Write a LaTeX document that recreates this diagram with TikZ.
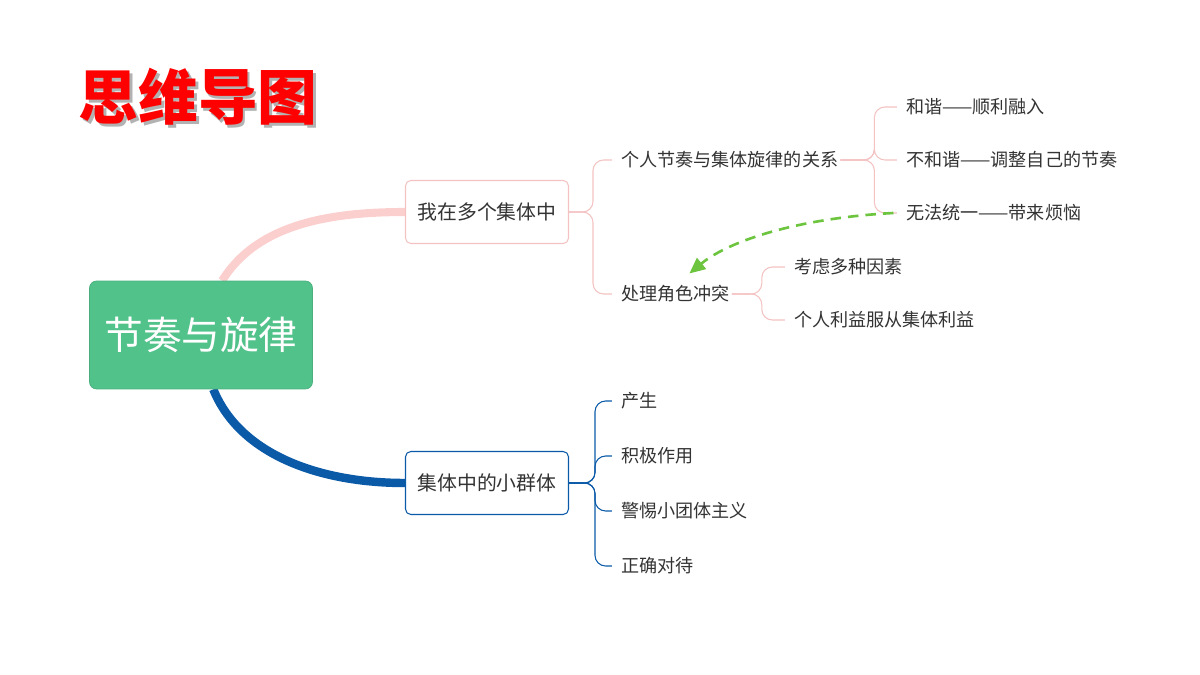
\documentclass[tikz,border=0pt]{standalone}
\usepackage{fontspec}
\setmainfont{Noto Sans CJK SC}
\usetikzlibrary{arrows.meta,positioning,backgrounds}
\definecolor{titlered}{HTML}{FF0000}
\definecolor{rootgreen}{HTML}{52C28B}
\definecolor{pinkline}{HTML}{FCCFCF}
\definecolor{pinkbox}{HTML}{F4C2C2}
\definecolor{bluebr}{HTML}{0B5AA8}
\definecolor{txtgray}{HTML}{333333}
\definecolor{arrowgreen}{HTML}{6DC43F}
\newcommand{\shadowtext}[1]{\makebox[0pt][l]{\hspace{1.7pt}\raisebox{-1.7pt}{\textcolor{gray!60}{#1}}}#1}
\tikzset{
	topic/.style={draw, rounded corners=3pt, fill=white, line width=0.6pt, minimum width=3.26cm, minimum height=1.26cm, text=txtgray, font=\fontsize{11.3}{13}\selectfont},
	leaf/.style={anchor=west, inner sep=1pt, text=txtgray, font=\fontsize{10.3}{12}\selectfont},
	brace/.style={rounded corners=6pt, line width=0.6pt},
}

\begin{document}
\begin{tikzpicture}[x=0.02cm, y=-0.02cm]
		\useasboundingbox (0,0) rectangle (1200,675);
		\node[text=titlered, font=\fontsize{34}{40}\selectfont\bfseries] (title) at (198,98) {\shadowtext{思维导图}};
		\node[draw=rootgreen!90!black, fill=rootgreen, rounded corners=4pt, minimum width=4.46cm, minimum height=2.16cm, text=white, font=\fontsize{22}{26}\selectfont] (r) at (201,335) {节奏与旋律};
		\node[topic, draw=pinkbox] (a) at (487,212) {我在多个集体中};
		\node[topic, draw=bluebr] (b) at (487,483) {集体中的小群体};
		\node[leaf] (a-1) at (619,160) {个人节奏与集体旋律的关系};
		\node[leaf] (a-2) at (619,294) {处理角色冲突};
		\node[leaf] (a-1-1) at (904,107) {和谐——顺利融入};
		\node[leaf] (a-1-2) at (904,160) {不和谐——调整自己的节奏};
		\node[leaf] (a-1-3) at (904,213) {无法统一——带来烦恼};
		\node[leaf] (a-2-1) at (792,267) {考虑多种因素};
		\node[leaf] (a-2-2) at (792,320) {个人利益服从集体利益};
		\node[leaf] (b-1) at (619,401) {产生};
		\node[leaf] (b-2) at (619,456) {积极作用};
		\node[leaf] (b-3) at (619,511) {警惕小团体主义};
		\node[leaf] (b-4) at (619,566) {正确对待};
		\begin{scope}[on background layer]
			\path[draw=pinkline, line width=4.6pt]
			([xshift=12pt]r.north) .. controls (255,228) and (320,212) .. (a.west)
			;
			\path[draw=bluebr, line width=4.8pt]
			([xshift=7pt]r.south) .. controls (240,455) and (320,483) .. (b.west)
			;
		\end{scope}
		\foreach \c in {a-1,a-2}
			\draw[brace, pinkbox] (a.east) -- ++(24,0) |- ([xshift=-4pt]\c.west);
		\foreach \c in {a-1-1,a-1-2,a-1-3}
			\draw[brace, pinkbox] (a-1.east) -- ++(34,0) |- ([xshift=-4pt]\c.west);
		\foreach \c in {a-2-1,a-2-2}
			\draw[brace, pinkbox] (a-2.east) -- ++(30,0) |- ([xshift=-4pt]\c.west);
		\foreach \c in {b-1,b-2,b-3,b-4}
			\draw[brace, bluebr] (b.east) -- ++(26,0) |- ([xshift=-4pt]\c.west);
		\path[-{Triangle[length=9pt,width=8pt]}, draw=arrowgreen, line width=1.5pt, dash pattern=on 6pt off 4pt]
		([xshift=-6pt]a-1-3.west) .. controls (800,218) and (730,240) .. ([shift={(14,-10)}]a-2.north)
		;
	\end{tikzpicture}
\end{document}
